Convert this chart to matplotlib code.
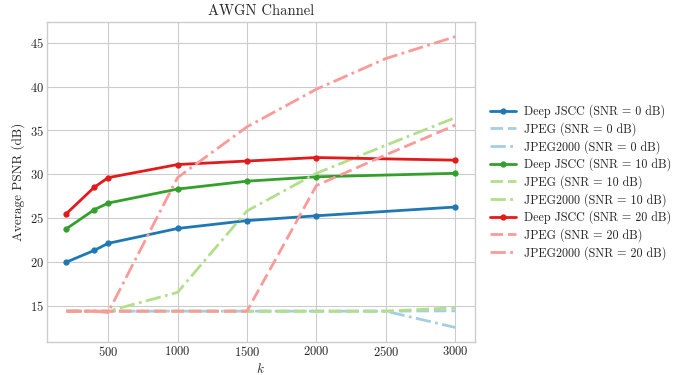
import matplotlib
matplotlib.use("Agg")
import matplotlib.pyplot as plt

plt.style.use("seaborn-v0_8-whitegrid")
plt.rcParams["font.family"] = "serif"
plt.rcParams["font.serif"] = ["cmr10"]
plt.rcParams["mathtext.fontset"] = "cm"
plt.rcParams["axes.formatter.use_mathtext"] = True

K_JSCC = [200, 400, 500, 1000, 1500, 2000, 3000]
K_BASE = [200, 400, 500, 1000, 1500, 2000, 2500, 3000]

jscc_snr0 = [19.96, 21.3, 22.1, 23.8, 24.7, 25.25, 26.25]
jscc_snr10 = [23.77, 25.94, 26.7, 28.3, 29.2, 29.7, 30.1]
jscc_snr20 = [25.5, 28.5, 29.6, 31.1, 31.5, 31.9, 31.6]

jpeg_snr0 = [14.36, 14.36, 14.36, 14.36, 14.36, 14.36, 14.36, 14.4]
jp2k_snr0 = [14.36, 14.36, 14.36, 14.36, 14.36, 14.36, 14.36, 12.5]
jpeg_snr10 = [14.36, 14.36, 14.36, 14.36, 14.36, 14.36, 14.36, 14.75]
jp2k_snr10 = [14.36, 14.36, 14.36, 16.5, 25.8, 30.1, 33.3, 36.45]
jpeg_snr20 = [14.36, 14.36, 14.36, 14.36, 14.36, 28.7, 32.2, 35.6]
jp2k_snr20 = [14.36, 14.36, 14.2, 29.6, 35.4, 39.7, 43.2, 45.7]

snrs = [0, 10, 20]
dark = ["#1f78b4", "#33a02c", "#e31a1c"]
light = ["#a6cee3", "#b2df8a", "#fb9a99"]

jscc = [jscc_snr0, jscc_snr10, jscc_snr20]
jpeg = [jpeg_snr0, jpeg_snr10, jpeg_snr20]
jp2k = [jp2k_snr0, jp2k_snr10, jp2k_snr20]

fig = plt.figure(figsize=(6.81, 3.75), dpi=100)
ax = fig.add_axes([0.069, 0.088, 0.628, 0.853])

for i, snr in enumerate(snrs):
    ax.plot(K_JSCC, jscc[i], color=dark[i], lw=2, marker=".", markersize=7,
            label=f"Deep JSCC (SNR = {snr} dB)")
    ax.plot(K_BASE, jpeg[i], color=light[i], lw=2, dashes=(4.5, 1.8),
            label=f"JPEG (SNR = {snr} dB)")
    ax.plot(K_BASE, jp2k[i], color=light[i], lw=2, dashes=(5.5, 1.6, 1.0, 1.6),
            label=f"JPEG2000 (SNR = {snr} dB)")

ax.set_title("AWGN Channel", fontsize=10.5, pad=5)
ax.set_xlabel("$k$", fontsize=9.5, labelpad=2)
ax.set_ylabel("Average PSNR (dB)", fontsize=9.5, labelpad=4)
ax.tick_params(labelsize=9, pad=2)
ax.set_xticks([500, 1000, 1500, 2000, 2500, 3000])
ax.set_yticks([15, 20, 25, 30, 35, 40, 45])
for s in ax.spines.values():
    s.set_visible(True)
    s.set_color("#cccccc")

ax.legend(loc="center left", bbox_to_anchor=(1.01, 0.5), frameon=False,
          fontsize=8.7, handlelength=2.2, handletextpad=0.6, labelspacing=0.32)

fig.savefig("out.png", dpi=100)
